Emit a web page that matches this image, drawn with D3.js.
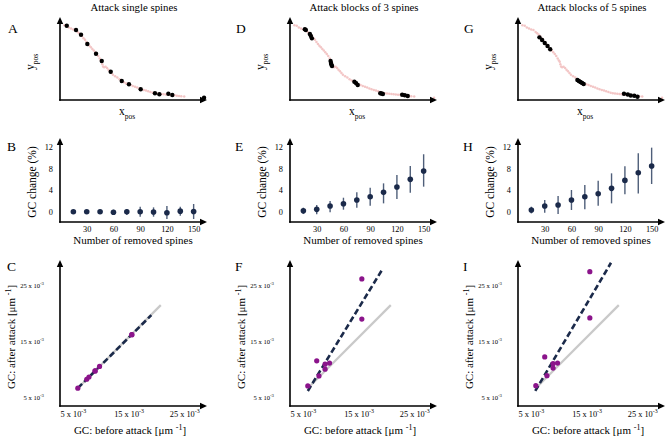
<!DOCTYPE html>
<html><head><meta charset="utf-8">
<script src="https://cdn.jsdelivr.net/npm/d3@7"></script>
<style>
body{margin:0;background:#fff}
text{font-family:"Liberation Serif","Times New Roman",serif;fill:#000}
</style>
</head><body>
<svg id="c" width="669" height="439"></svg>
<script>
// ---------------- DATA ----------------
const titles = ["Attack single spines", "Attack blocks of 3 spines", "Attack blocks of 5 spines"];
const letters = [["A","D","G"],["B","E","H"],["C","F","I"]];

// all spine positions (arbitrary units)
const spineX = [3,4.6,6,7.5,9,10.5,12,13,14,15,16,17,18,19,20,21,22,23,24,25,26,27,27.8,28.4,28.8,29.3,30,31,32,33,34,35,36,37.5,39,40.5,42,43.5,45,46.5,48,49.5,51,52.5,54,55.5,57,58.5,60,61.5,63,64.5,66,67.5,69,70.5,72,73.5,75,76.5,78,79.5,81,82.5,84.5,98];
const spineY = [90,89.5,87.5,86,85,84.3,82,80.5,79,77,74.5,72.5,70,67.5,65.5,63.5,61.5,59.5,57.5,55.5,53,50,47.5,46,43,40.5,39.5,40,38.5,36.5,34.5,32.5,30.5,28.5,27,25,23.5,21.5,20,19,18,17,16,15,14,13,12,11.3,10.5,9.5,8.7,8.2,7.8,7.4,7.1,6.9,6.6,6.4,6.2,5.9,5.6,5.2,4.9,4.6,4.1,2.8];

// removed spines
const removedSingleX = [4.6,10.9,14.3,18.6,24.5,28.4,34.5,42,46.9,54.9,64.6,67.6,73.7,76.4,98];
const removedSingleY = [89.5,84.3,78.7,67.5,55.8,47,34.1,22.9,18.9,12.9,8.1,6.9,7.6,6.0,2.8];
const removedBlock3X = [10.1,10.8,13.5,14.2,14.9,27.6,27.9,28.1,28.6,43.8,45,46.1,61.4,62.3,63.2,76.3,78.1,80.1];
const removedBlock3Y = [85.2,84.3,79.5,77.1,74.3,47,44.6,42.8,41,22,20.1,18.1,8.1,7.8,7.2,6.4,5.7,4.8];
const removedBlock5X = [14.6,16.4,18.2,20.1,21.9,40.4,41.4,42.5,43.6,44.7,72.1,74.7,76.7,79.1,81.3];
const removedBlock5Y = [75.5,72.3,68.7,65.1,61.1,24.1,22.9,21.7,20.5,19.3,7.6,6.6,5.4,5.2,4.0];

// GC change (%) vs number of removed spines
const removedCount = [15,30,45,60,75,90,105,120,135,150];
const yTicksGC = [0,4,8,12];
const xTicksCount = [30,60,90,120,150];
const singleMean = [0.0,0.0,0.0,-0.1,0.0,0.0,-0.05,-0.2,0.1,0.05];
const singleLow  = [-0.25,-0.37,-0.43,-0.55,-0.6,-0.92,-0.92,-1.35,-0.74,-1.35];
const singleHigh = [0.25,0.3,0.37,0.37,0.5,0.92,0.8,1.05,0.92,1.42];
const block3Mean = [0.18,0.43,1.05,1.48,2.15,2.77,3.57,4.55,5.97,7.51];
const block3Low  = [-0.43,-0.49,-0.12,0.37,0.74,1.11,1.54,2.34,3.51,4.62];
const block3High = [0.74,1.23,1.97,2.58,3.57,4.43,5.23,6.77,8.43,10.6];
const block5Mean = [0.31,1.05,1.23,2.15,2.77,3.32,4.31,5.78,7.2,8.43];
const block5Low  = [-0.31,-0.18,-0.43,0.31,0.43,1.11,1.54,3.2,3.38,5.11];
const block5High = [0.92,2.15,2.89,4.0,4.92,5.72,7.08,8.4,10.77,11.82];

// GC before / after attack (x 10^-3 um^-1)
const gcTicks = [5,15,25];
const gcBefore      = [6.6,8.2,8.6,9.7,9.7,10.5,16.3,16.3];
const gcAfterSingle = [6.6,8.2,8.6,9.7,9.7,10.5,16.2,16.2];
const gcAfterBlock3 = [7.0,11.5,8.8,10.9,10.0,11.1,26.2,19.0];
const gcAfterBlock5 = [7.05,12.2,8.85,11.0,10.2,11.1,27.5,19.2];
const identityX = [6.6,21.5];
const fitSingleX = [6.6,19.8],  fitSingleY = [6.6,19.7];
const fitBlock3X = [6.6,20.1],  fitBlock3Y = [6.1,28.1];
const fitBlock5X = [6.5,20.1],  fitBlock5Y = [6.1,29.1];

// ---------------- LAYOUT ----------------
const svg = d3.select("#c");
const colX = [60, 290, 518];
const W = 147;
const navy = "#1b2a4a";
const SERIF = "Liberation Serif";

function arrowAxes(ox, y0, y1) {
  const g = svg.append("g");
  const x1 = ox + W;
  g.append("line").attr("x1", ox).attr("y1", y0 + 0.7).attr("x2", ox).attr("y2", y1 + 5)
    .attr("stroke", "#000").attr("stroke-width", 1.6);
  g.append("path").attr("d", `M${ox},${y1} L${ox-3.2},${y1+7} L${ox+3.2},${y1+7} Z`).attr("fill", "#000");
  g.append("line").attr("x1", ox - 0.8).attr("y1", y0).attr("x2", x1 - 5).attr("y2", y0)
    .attr("stroke", "#000").attr("stroke-width", 1.6);
  g.append("path").attr("d", `M${x1},${y0} L${x1-7},${y0-3.2} L${x1-7},${y0+3.2} Z`).attr("fill", "#000");
}

function subLabel(x, y, main, sub, rotate) {
  const t = svg.append("text").attr("text-anchor", "middle").attr("font-size", 11.5)
    .attr("font-family", SERIF)
    .attr("transform", rotate ? `translate(${x},${y}) rotate(-90)` : `translate(${x},${y})`);
  t.append("tspan").text(main);
  t.append("tspan").attr("dy", 3.5).attr("font-size", 7.5).text(sub);
}

function unitLabel(x, y, main, rotate) {
  const t = svg.append("text").attr("text-anchor", "middle").attr("font-size", 11)
    .attr("font-family", SERIF)
    .attr("transform", rotate ? `translate(${x},${y}) rotate(-90)` : `translate(${x},${y})`);
  t.append("tspan").text(main + " [\u03bcm ");
  t.append("tspan").attr("dy", -4).attr("font-size", 8).text("-1");
  t.append("tspan").attr("dy", 4).text("]");
}

function sciTicks(sel, size) {
  sel.selectAll(".tick text").text(null).attr("font-size", size).attr("font-family", SERIF)
    .each(function (d) {
      const t = d3.select(this);
      t.append("tspan").text(d + " x 10");
      t.append("tspan").attr("dy", -size * 0.42).attr("font-size", size * 0.72).text("-3");
    });
}

// titles
titles.forEach((t, i) => {
  svg.append("text").attr("x", colX[i] + 74).attr("y", 11).attr("text-anchor", "middle")
    .attr("font-family", SERIF).attr("font-size", 10.8).text(t);
});

// letters
const letterPos = [[8,33],[7,151],[7,271]];
const letterDx = [0, 228, 456];
letters.forEach((row, r) => row.forEach((L, c) => {
  svg.append("text").attr("x", letterPos[r][0] + letterDx[c]).attr("y", letterPos[r][1])
    .attr("font-family", SERIF).attr("font-size", 13.5).text(L);
}));

// ---------------- TOP ROW ----------------
const removedSets = [[removedSingleX, removedSingleY],[removedBlock3X, removedBlock3Y],[removedBlock5X, removedBlock5Y]];
colX.forEach((ox, i) => {
  const x = d3.scaleLinear().domain([0, 100]).range([ox, ox + W]);
  const y = d3.scaleLinear().domain([0, 100]).range([100, 17]);
  const g = svg.append("g");
  g.selectAll("circle.sp").data(spineX).join("circle")
    .attr("cx", (d) => x(d)).attr("cy", (d, j) => y(spineY[j])).attr("r", 1.25)
    .attr("fill", "#f3c6c6");
  const [rx, ry] = removedSets[i];
  g.selectAll("circle.rm").data(rx).join("circle")
    .attr("cx", (d) => x(d)).attr("cy", (d, j) => y(ry[j])).attr("r", 2.2).attr("fill", "#000");
  arrowAxes(ox, 100, 17);
  subLabel(ox + 67, 115, "x", "pos", false);
  subLabel(ox - 26, 62, "y", "pos", true);
});

// ---------------- MIDDLE ROW ----------------
const gcSets = [[singleMean, singleLow, singleHigh],[block3Mean, block3Low, block3High],[block5Mean, block5Low, block5High]];
colX.forEach((ox, i) => {
  const x = d3.scaleLinear().domain([0, 165]).range([ox, ox + W]);
  const y = d3.scaleLinear().domain([-1.9, 13.6]).range([222, 138]);
  const [m, lo, hi] = gcSets[i];
  const g = svg.append("g");
  g.selectAll("line.eb").data(removedCount).join("line")
    .attr("x1", (d) => x(d)).attr("x2", (d) => x(d))
    .attr("y1", (d, j) => y(lo[j])).attr("y2", (d, j) => y(hi[j]))
    .attr("stroke", "#4f5f7a").attr("stroke-width", 1.4);
  g.selectAll("circle").data(removedCount).join("circle")
    .attr("cx", (d) => x(d)).attr("cy", (d, j) => y(m[j])).attr("r", 2.8).attr("fill", navy);
  const ax = svg.append("g").attr("transform", `translate(0,222)`)
    .call(d3.axisBottom(x).tickValues(xTicksCount).tickSize(0).tickPadding(4.5));
  ax.select(".domain").remove();
  ax.selectAll("text").attr("font-size", 8.3).attr("font-family", SERIF);
  const ay = svg.append("g").attr("transform", `translate(${ox},0)`)
    .call(d3.axisLeft(y).tickValues(yTicksGC).tickSize(0).tickPadding(7));
  ay.select(".domain").remove();
  ay.selectAll("text").attr("font-size", 8.3).attr("font-family", SERIF);
  arrowAxes(ox, 222, 138);
  svg.append("text").attr("transform", `translate(${ox - 24},182) rotate(-90)`)
    .attr("font-family", SERIF)
    .attr("text-anchor", "middle").attr("font-size", 11.5).text("GC change (%)");
  svg.append("text").attr("x", ox + 73).attr("y", 244).attr("text-anchor", "middle")
    .attr("font-family", SERIF).attr("font-size", 11).text("Number of removed spines");
});

// ---------------- BOTTOM ROW ----------------
const afterSets = [gcAfterSingle, gcAfterBlock3, gcAfterBlock5];
const fitSets = [[fitSingleX, fitSingleY],[fitBlock3X, fitBlock3Y],[fitBlock5X, fitBlock5Y]];
colX.forEach((ox, i) => {
  const x = d3.scaleLinear().domain([3.4, 29.8]).range([ox, ox + W]);
  const y = d3.scaleLinear().domain([3.4, 29.6]).range([406, 260]);
  const g = svg.append("g");
  const line = d3.line().x((d) => x(d[0])).y((d) => y(d[1]));
  g.append("path").datum(identityX.map((v) => [v, v])).attr("d", line)
    .attr("stroke", "#c9c9c9").attr("stroke-width", 2.2).attr("fill", "none");
  const [fx, fy] = fitSets[i];
  g.append("path").datum(fx.map((v, j) => [v, fy[j]])).attr("d", line)
    .attr("stroke", navy).attr("stroke-width", 2.6).attr("fill", "none")
    .attr("stroke-dasharray", "6,3");
  const after = afterSets[i];
  g.selectAll("circle").data(gcBefore).join("circle")
    .attr("cx", (d) => x(d)).attr("cy", (d, j) => y(after[j])).attr("r", 2.6).attr("fill", "#8b148b");
  const ax = svg.append("g").attr("transform", `translate(4,406)`)
    .call(d3.axisBottom(x).tickValues(gcTicks).tickSize(0).tickPadding(5));
  ax.select(".domain").remove();
  sciTicks(ax, 8.3);
  const ay = svg.append("g").attr("transform", `translate(${ox},0)`)
    .call(d3.axisLeft(y).tickValues(gcTicks).tickSize(0).tickPadding(16));
  ay.select(".domain").remove();
  sciTicks(ay, 6.6);
  arrowAxes(ox, 406, 260);
  unitLabel(ox - 45, 337, "GC: after attack", true);
  unitLabel(ox + 70, 434, "GC: before attack", false);
});
</script>
</body></html>
